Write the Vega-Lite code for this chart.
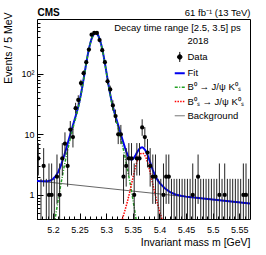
{
 "$schema": "https://vega.github.io/schema/vega-lite/v6.json",
 "width": 213, "height": 200,
 "autosize": "none",
 "padding": {"left": 37, "top": 19, "right": 16, "bottom": 36},
 "background": "white",
 "config": {
  "font": "Liberation Sans",
  "view": {"stroke": "black", "strokeWidth": 1},
  "axis": {"grid": false, "domain": false, "tickColor": "black", "labelColor": "black", "titleColor": "black", "labelFont": "Liberation Sans", "titleFont": "Liberation Sans", "labelFontSize": 9, "titleFontSize": 10.5, "titleFontWeight": "normal", "tickWidth": 1},
  "legend": {"orient": "none", "legendX": 138, "legendY": 17, "title": null,
        "labelFontSize": 9.5, "labelFont": "Liberation Sans", "labelColor": "black", "labelOffset": 3, "symbolType": "stroke", "symbolSize": 100, "rowPadding": 3.2, "padding": 0}
 },
 "datasets": {
  "bins": [
   {"m":5.1725,"n":4,"lo":2.09,"hi":7.16},
   {"m":5.1775,"n":null,"lo":0.3,"hi":1.84},
   {"m":5.1825,"n":3,"lo":1.37,"hi":5.92},
   {"m":5.1875,"n":null,"lo":0.3,"hi":1.84},
   {"m":5.1925,"n":1,"lo":0.17,"hi":3.3},
   {"m":5.1975,"n":1,"lo":0.17,"hi":3.3},
   {"m":5.2025,"n":null,"lo":0.3,"hi":1.84},
   {"m":5.2075,"n":2,"lo":0.71,"hi":4.64},
   {"m":5.2125,"n":1,"lo":0.17,"hi":3.3},
   {"m":5.2175,"n":4,"lo":2.09,"hi":7.16},
   {"m":5.2225,"n":7,"lo":4.42,"hi":10.77},
   {"m":5.2275,"n":3,"lo":1.37,"hi":5.92},
   {"m":5.2325,"n":12,"lo":8.58,"hi":16.56},
   {"m":5.2375,"n":9,"lo":6.06,"hi":13.11},
   {"m":5.2425,"n":27,"lo":22.0,"hi":33.1},
   {"m":5.2475,"n":37,"lo":31.0,"hi":44.1},
   {"m":5.2525,"n":70,"lo":61.6,"hi":79.4},
   {"m":5.2575,"n":102,"lo":91.9,"hi":113.1},
   {"m":5.2625,"n":155,"lo":142.6,"hi":168.5},
   {"m":5.2675,"n":250,"lo":234.2,"hi":266.8},
   {"m":5.2725,"n":440,"lo":419.0,"hi":462.0},
   {"m":5.2775,"n":470,"lo":448.3,"hi":492.7},
   {"m":5.2825,"n":470,"lo":448.3,"hi":492.7},
   {"m":5.2875,"n":360,"lo":341.0,"hi":380.0},
   {"m":5.2925,"n":245,"lo":229.4,"hi":261.7},
   {"m":5.2975,"n":155,"lo":142.6,"hi":168.5},
   {"m":5.3025,"n":75,"lo":66.4,"hi":84.7},
   {"m":5.3075,"n":55,"lo":47.6,"hi":63.5},
   {"m":5.3125,"n":30,"lo":24.6,"hi":36.5},
   {"m":5.3175,"n":20,"lo":15.6,"hi":25.6},
   {"m":5.3225,"n":10,"lo":6.89,"hi":14.27},
   {"m":5.3275,"n":10,"lo":6.89,"hi":14.27},
   {"m":5.3325,"n":2,"lo":0.71,"hi":4.64},
   {"m":5.3375,"n":3,"lo":1.37,"hi":5.92},
   {"m":5.3425,"n":4,"lo":2.09,"hi":7.16},
   {"m":5.3475,"n":4,"lo":2.09,"hi":7.16},
   {"m":5.3525,"n":1,"lo":0.17,"hi":3.3},
   {"m":5.3575,"n":4,"lo":2.09,"hi":7.16},
   {"m":5.3625,"n":4,"lo":2.09,"hi":7.16},
   {"m":5.3675,"n":13,"lo":9.44,"hi":17.7},
   {"m":5.3725,"n":9,"lo":6.06,"hi":13.11},
   {"m":5.3775,"n":5,"lo":2.84,"hi":8.38},
   {"m":5.3825,"n":3,"lo":1.37,"hi":5.92},
   {"m":5.3875,"n":2,"lo":0.71,"hi":4.64},
   {"m":5.3925,"n":2,"lo":0.71,"hi":4.64},
   {"m":5.3975,"n":null,"lo":0.3,"hi":1.84},
   {"m":5.4025,"n":null,"lo":0.3,"hi":1.84},
   {"m":5.4075,"n":1,"lo":0.17,"hi":3.3},
   {"m":5.4125,"n":2,"lo":0.71,"hi":4.64},
   {"m":5.4175,"n":2,"lo":0.71,"hi":4.64},
   {"m":5.4225,"n":null,"lo":0.3,"hi":1.84},
   {"m":5.4275,"n":null,"lo":0.3,"hi":1.84},
   {"m":5.4325,"n":null,"lo":0.3,"hi":1.84},
   {"m":5.4375,"n":null,"lo":0.3,"hi":1.84},
   {"m":5.4425,"n":null,"lo":0.3,"hi":1.84},
   {"m":5.4475,"n":null,"lo":0.3,"hi":1.84},
   {"m":5.4525,"n":null,"lo":0.3,"hi":1.84},
   {"m":5.4575,"n":null,"lo":0.3,"hi":1.84},
   {"m":5.4625,"n":1,"lo":0.17,"hi":3.3},
   {"m":5.4675,"n":null,"lo":0.3,"hi":1.84},
   {"m":5.4725,"n":2,"lo":0.71,"hi":4.64},
   {"m":5.4775,"n":null,"lo":0.3,"hi":1.84},
   {"m":5.4825,"n":null,"lo":0.3,"hi":1.84},
   {"m":5.4875,"n":null,"lo":0.3,"hi":1.84},
   {"m":5.4925,"n":null,"lo":0.3,"hi":1.84},
   {"m":5.4975,"n":null,"lo":0.3,"hi":1.84},
   {"m":5.5025,"n":null,"lo":0.3,"hi":1.84},
   {"m":5.5075,"n":null,"lo":0.3,"hi":1.84},
   {"m":5.5125,"n":1,"lo":0.17,"hi":3.3},
   {"m":5.5175,"n":null,"lo":0.3,"hi":1.84},
   {"m":5.5225,"n":1,"lo":0.17,"hi":3.3},
   {"m":5.5275,"n":null,"lo":0.3,"hi":1.84},
   {"m":5.5325,"n":null,"lo":0.3,"hi":1.84},
   {"m":5.5375,"n":null,"lo":0.3,"hi":1.84},
   {"m":5.5425,"n":null,"lo":0.3,"hi":1.84},
   {"m":5.5475,"n":null,"lo":0.3,"hi":1.84},
   {"m":5.5525,"n":null,"lo":0.3,"hi":1.84},
   {"m":5.5575,"n":1,"lo":0.17,"hi":3.3},
   {"m":5.5625,"n":1,"lo":0.17,"hi":3.3},
   {"m":5.5675,"n":null,"lo":0.3,"hi":1.84}
  ],
  "curves": [
   {"s":"Background","m":5.17,"v":1.70},
   {"s":"Background","m":5.57,"v":0.72},
   {"s":"Fit","m":5.17,"v":1.70},{"s":"Fit","m":5.18,"v":1.674},{"s":"Fit","m":5.19,"v":1.681},{"s":"Fit","m":5.195,"v":1.724},
   {"s":"Fit","m":5.2,"v":1.826},{"s":"Fit","m":5.205,"v":2.032},{"s":"Fit","m":5.21,"v":2.413},{"s":"Fit","m":5.215,"v":3.07},
   {"s":"Fit","m":5.22,"v":4.17},{"s":"Fit","m":5.2225,"v":4.92},{"s":"Fit","m":5.225,"v":5.85},{"s":"Fit","m":5.2275,"v":6.99},
   {"s":"Fit","m":5.23,"v":8.34},{"s":"Fit","m":5.2325,"v":9.96},{"s":"Fit","m":5.235,"v":11.83},{"s":"Fit","m":5.2375,"v":14.07},
   {"s":"Fit","m":5.24,"v":16.76},{"s":"Fit","m":5.2425,"v":19.86},{"s":"Fit","m":5.245,"v":23.75},{"s":"Fit","m":5.2475,"v":28.84},
   {"s":"Fit","m":5.25,"v":35.83},{"s":"Fit","m":5.2525,"v":45.82},{"s":"Fit","m":5.255,"v":60.42},{"s":"Fit","m":5.2575,"v":81.41},
   {"s":"Fit","m":5.26,"v":110.6},{"s":"Fit","m":5.2625,"v":149.7},{"s":"Fit","m":5.265,"v":198.6},{"s":"Fit","m":5.2675,"v":255.6},
   {"s":"Fit","m":5.27,"v":316.9},{"s":"Fit","m":5.2725,"v":376.2},{"s":"Fit","m":5.275,"v":426.1},{"s":"Fit","m":5.2775,"v":459.6},
   {"s":"Fit","m":5.28,"v":471.3},{"s":"Fit","m":5.2825,"v":459.6},{"s":"Fit","m":5.285,"v":426.0},{"s":"Fit","m":5.2875,"v":376.1},
   {"s":"Fit","m":5.29,"v":316.8},{"s":"Fit","m":5.2925,"v":255.5},{"s":"Fit","m":5.295,"v":198.5},{"s":"Fit","m":5.2975,"v":149.6},
   {"s":"Fit","m":5.3,"v":110.5},{"s":"Fit","m":5.3025,"v":81.3},{"s":"Fit","m":5.305,"v":60.3},{"s":"Fit","m":5.3075,"v":45.7},
   {"s":"Fit","m":5.31,"v":35.7},{"s":"Fit","m":5.3125,"v":28.75},{"s":"Fit","m":5.315,"v":23.67},{"s":"Fit","m":5.3175,"v":19.79},
   {"s":"Fit","m":5.32,"v":16.72},{"s":"Fit","m":5.3225,"v":14.05},{"s":"Fit","m":5.325,"v":11.84},{"s":"Fit","m":5.3275,"v":10.01},
   {"s":"Fit","m":5.33,"v":8.45},{"s":"Fit","m":5.3325,"v":7.15},{"s":"Fit","m":5.335,"v":6.08},{"s":"Fit","m":5.3375,"v":5.24},
   {"s":"Fit","m":5.34,"v":4.61},{"s":"Fit","m":5.3425,"v":4.16},{"s":"Fit","m":5.345,"v":3.9},{"s":"Fit","m":5.3475,"v":3.82},
   {"s":"Fit","m":5.35,"v":3.9},{"s":"Fit","m":5.3525,"v":4.14},{"s":"Fit","m":5.355,"v":4.51},{"s":"Fit","m":5.3575,"v":4.94},
   {"s":"Fit","m":5.36,"v":5.39},{"s":"Fit","m":5.3625,"v":5.77},{"s":"Fit","m":5.365,"v":6.02},{"s":"Fit","m":5.3675,"v":6.09},
   {"s":"Fit","m":5.37,"v":5.95},{"s":"Fit","m":5.3725,"v":5.62},{"s":"Fit","m":5.375,"v":5.14},{"s":"Fit","m":5.3775,"v":4.58},
   {"s":"Fit","m":5.38,"v":4.0},{"s":"Fit","m":5.3825,"v":3.45},{"s":"Fit","m":5.385,"v":2.97},{"s":"Fit","m":5.3875,"v":2.57},
   {"s":"Fit","m":5.39,"v":2.26},{"s":"Fit","m":5.3925,"v":2.02},{"s":"Fit","m":5.395,"v":1.84},{"s":"Fit","m":5.3975,"v":1.7},
   {"s":"Fit","m":5.4,"v":1.59},{"s":"Fit","m":5.4025,"v":1.5},{"s":"Fit","m":5.405,"v":1.42},{"s":"Fit","m":5.41,"v":1.29},
   {"s":"Fit","m":5.415,"v":1.19},{"s":"Fit","m":5.42,"v":1.11},{"s":"Fit","m":5.43,"v":1.016},{"s":"Fit","m":5.44,"v":0.966},
   {"s":"Fit","m":5.45,"v":0.936},{"s":"Fit","m":5.46,"v":0.912},{"s":"Fit","m":5.57,"v":0.72},
   {"s":"B0","m":5.19,"v":0.053},{"s":"B0","m":5.195,"v":0.113},{"s":"B0","m":5.2,"v":0.232},{"s":"B0","m":5.205,"v":0.455},
   {"s":"B0","m":5.21,"v":0.853},{"s":"B0","m":5.215,"v":1.53},{"s":"B0","m":5.22,"v":2.64},{"s":"B0","m":5.2225,"v":3.4},
   {"s":"B0","m":5.225,"v":4.34},{"s":"B0","m":5.2275,"v":5.49},{"s":"B0","m":5.23,"v":6.85},{"s":"B0","m":5.2325,"v":8.47},
   {"s":"B0","m":5.235,"v":10.35},{"s":"B0","m":5.2375,"v":12.6},{"s":"B0","m":5.24,"v":15.3},{"s":"B0","m":5.2425,"v":18.4},
   {"s":"B0","m":5.245,"v":22.3},{"s":"B0","m":5.2475,"v":27.4},{"s":"B0","m":5.25,"v":34.4},{"s":"B0","m":5.2525,"v":44.4},
   {"s":"B0","m":5.255,"v":59.0},{"s":"B0","m":5.2575,"v":80.0},{"s":"B0","m":5.26,"v":109.2},{"s":"B0","m":5.2625,"v":148.3},
   {"s":"B0","m":5.265,"v":197.2},{"s":"B0","m":5.2675,"v":254.2},{"s":"B0","m":5.27,"v":315.5},{"s":"B0","m":5.2725,"v":374.8},
   {"s":"B0","m":5.275,"v":424.7},{"s":"B0","m":5.2775,"v":458.3},{"s":"B0","m":5.28,"v":470},{"s":"B0","m":5.2825,"v":458.3},
   {"s":"B0","m":5.285,"v":424.7},{"s":"B0","m":5.2875,"v":374.8},{"s":"B0","m":5.29,"v":315.5},{"s":"B0","m":5.2925,"v":254.2},
   {"s":"B0","m":5.295,"v":197.2},{"s":"B0","m":5.2975,"v":148.3},{"s":"B0","m":5.3,"v":109.2},{"s":"B0","m":5.3025,"v":80.0},
   {"s":"B0","m":5.305,"v":59.0},{"s":"B0","m":5.3075,"v":44.4},{"s":"B0","m":5.31,"v":34.4},{"s":"B0","m":5.3125,"v":27.4},
   {"s":"B0","m":5.315,"v":22.3},{"s":"B0","m":5.3175,"v":18.4},{"s":"B0","m":5.32,"v":15.3},{"s":"B0","m":5.3225,"v":12.6},
   {"s":"B0","m":5.325,"v":10.35},{"s":"B0","m":5.3275,"v":8.47},{"s":"B0","m":5.33,"v":6.85},{"s":"B0","m":5.3325,"v":5.49},
   {"s":"B0","m":5.335,"v":4.34},{"s":"B0","m":5.3375,"v":3.4},{"s":"B0","m":5.34,"v":2.64},{"s":"B0","m":5.345,"v":1.53},
   {"s":"B0","m":5.35,"v":0.853},{"s":"B0","m":5.355,"v":0.455},{"s":"B0","m":5.36,"v":0.232},{"s":"B0","m":5.365,"v":0.113},
   {"s":"B0","m":5.37,"v":0.053},
   {"s":"Bs","m":5.3175,"v":0.148},{"s":"Bs","m":5.3225,"v":0.224},{"s":"Bs","m":5.3275,"v":0.324},{"s":"Bs","m":5.33,"v":0.39},
   {"s":"Bs","m":5.3325,"v":0.463},{"s":"Bs","m":5.335,"v":0.55},{"s":"Bs","m":5.3375,"v":0.656},{"s":"Bs","m":5.34,"v":0.791},
   {"s":"Bs","m":5.3425,"v":0.968},{"s":"Bs","m":5.345,"v":1.2},{"s":"Bs","m":5.3475,"v":1.506},{"s":"Bs","m":5.35,"v":1.895},
   {"s":"Bs","m":5.3525,"v":2.367},{"s":"Bs","m":5.355,"v":2.907},{"s":"Bs","m":5.3575,"v":3.479},{"s":"Bs","m":5.36,"v":4.027},
   {"s":"Bs","m":5.3625,"v":4.486},{"s":"Bs","m":5.365,"v":4.793},{"s":"Bs","m":5.3675,"v":4.9},{"s":"Bs","m":5.37,"v":4.793},
   {"s":"Bs","m":5.3725,"v":4.486},{"s":"Bs","m":5.375,"v":4.027},{"s":"Bs","m":5.3775,"v":3.479},{"s":"Bs","m":5.38,"v":2.907},
   {"s":"Bs","m":5.3825,"v":2.367},{"s":"Bs","m":5.385,"v":1.895},{"s":"Bs","m":5.3875,"v":1.506},{"s":"Bs","m":5.39,"v":1.2},
   {"s":"Bs","m":5.3925,"v":0.968},{"s":"Bs","m":5.395,"v":0.791},{"s":"Bs","m":5.3975,"v":0.656},{"s":"Bs","m":5.4,"v":0.55},
   {"s":"Bs","m":5.4025,"v":0.463},{"s":"Bs","m":5.405,"v":0.39},{"s":"Bs","m":5.4075,"v":0.324},{"s":"Bs","m":5.4125,"v":0.224},
   {"s":"Bs","m":5.4175,"v":0.148}
  ]
 },
 "layer": [
  {
   "data": {"name": "curves"},
   "transform": [{"filter": "datum.s === 'Background'"}],
   "mark": {"type": "line", "clip": true, "strokeWidth": 1},
   "encoding": {
    "x": {"field": "m", "type": "quantitative", "scale": {"domain": [5.17, 5.57], "nice": false, "zero": false},
          "axis": {"orient": "top", "title": "CMS", "titleFontWeight": "bold", "titleFontSize": 10, "titleAnchor": "start", "titleAlign": "left", "titleX": 0, "titleY": -4, "titleBaseline": "alphabetic", "ticks": false, "labels": false}},
    "y": {"field": "v", "type": "quantitative", "scale": {"type": "log", "domain": [0.4, 800], "nice": false}, "axis": null},
    "color": {"field": "s", "type": "nominal",
      "scale": {"domain": ["2018", "Data", "Fit", "B0", "Bs", "Background"], "range": ["#ffffff", "#000000", "#0000ee", "#22a022", "#ff0000", "#666666"]},
      "legend": {
        "labelExpr": "datum.value === 'B0' ? 'B⁰ → J/ψ K⁰ₛ' : datum.value === 'Bs' ? 'B⁰ₛ → J/ψ K⁰ₛ' : datum.label",
        "encode": {"symbols": {"update": {
          "shape": {"signal": "datum.value === 'Data' ? 'M0,-1V1M-0.45,0A0.45,0.45 0 1 0 0.45,0A0.45,0.45 0 1 0 -0.45,0' : 'stroke'"},
          "fill": {"signal": "datum.value === 'Data' ? '#000000' : 'transparent'"},
          "opacity": {"signal": "datum.value === '2018' ? 0 : 1"},
          "strokeWidth": {"signal": "datum.value === 'Fit' ? 2 : datum.value === 'Background' ? 1 : datum.value === 'Data' ? 1 : 1.5"},
          "strokeDash": {"signal": "datum.value === 'B0' ? [3, 1.5, 1, 1.5] : datum.value === 'Bs' ? [1.5, 1.2] : [1, 0]"}
        }}}
      }}
   }
  },
  {
   "data": {"name": "curves"},
   "transform": [{"filter": "datum.s === 'Fit'"}],
   "mark": {"type": "line", "clip": true, "strokeWidth": 2},
   "encoding": {
    "x": {"field": "m", "type": "quantitative", "scale": {"domain": [5.17, 5.57], "nice": false, "zero": false},
          "axis": {"orient": "top", "title": "61 fb⁻¹ (13 TeV)", "titleFontSize": 9.5, "titleAnchor": "end", "titleAlign": "right", "titleX": 213, "titleY": -4, "titleBaseline": "alphabetic", "ticks": false, "labels": false}},
    "y": {"field": "v", "type": "quantitative", "scale": {"type": "log", "domain": [0.4, 800], "nice": false}, "axis": null},
    "color": {"field": "s", "type": "nominal", "scale": {"domain": ["2018", "Data", "Fit", "B0", "Bs", "Background"], "range": ["#ffffff", "#000000", "#0000ee", "#22a022", "#ff0000", "#666666"]}}
   }
  },
  {
   "data": {"name": "curves"},
   "transform": [{"filter": "datum.s === 'B0'"}],
   "mark": {"type": "line", "clip": true, "strokeWidth": 1.5, "strokeDash": [3, 1.5, 1, 1.5]},
   "encoding": {
    "x": {"field": "m", "type": "quantitative", "scale": {"domain": [5.17, 5.57], "nice": false, "zero": false},
          "axis": {"orient": "bottom", "values": [5.17,5.18,5.19,5.2,5.21,5.22,5.23,5.24,5.25,5.26,5.27,5.28,5.29,5.3,5.31,5.32,5.33,5.34,5.35,5.36,5.37,5.38,5.39,5.4,5.41,5.42,5.43,5.44,5.45,5.46,5.47,5.48,5.49,5.5,5.51,5.52,5.53,5.54,5.55,5.56], "tickSize": -3, "labels": false, "title": null}},
    "y": {"field": "v", "type": "quantitative", "scale": {"type": "log", "domain": [0.4, 800], "nice": false},
          "axis": {"orient": "left", "values": [0.4,0.5,0.6,0.7,0.8,0.9,2,3,4,5,6,7,8,9,20,30,40,50,60,70,80,90,200,300,400,500,600,700], "tickSize": -3, "labels": false, "title": null}},
    "color": {"field": "s", "type": "nominal", "scale": {"domain": ["2018", "Data", "Fit", "B0", "Bs", "Background"], "range": ["#ffffff", "#000000", "#0000ee", "#22a022", "#ff0000", "#666666"]}}
   }
  },
  {
   "data": {"name": "curves"},
   "transform": [{"filter": "datum.s === 'Bs'"}],
   "mark": {"type": "line", "clip": true, "strokeWidth": 1.5, "strokeDash": [1.5, 1.2]},
   "encoding": {
    "x": {"field": "m", "type": "quantitative", "scale": {"domain": [5.17, 5.57], "nice": false, "zero": false},
          "axis": {"orient": "top", "title": "Decay time range [2.5, 3.5] ps", "titleFontSize": 9.5, "titleAnchor": "middle", "titleAlign": "center", "titleX": 140, "titleY": 8, "titleBaseline": "middle", "ticks": false, "labels": false}},
    "y": {"field": "v", "type": "quantitative", "scale": {"type": "log", "domain": [0.4, 800], "nice": false}, "axis": null},
    "color": {"field": "s", "type": "nominal", "scale": {"domain": ["2018", "Data", "Fit", "B0", "Bs", "Background"], "range": ["#ffffff", "#000000", "#0000ee", "#22a022", "#ff0000", "#666666"]}}
   }
  },
  {
   "data": {"name": "bins"},
   "mark": {"type": "rule", "clip": true, "color": "#222222", "strokeWidth": 1},
   "encoding": {
    "x": {"field": "m", "type": "quantitative", "scale": {"domain": [5.17, 5.57], "nice": false, "zero": false},
          "axis": {"orient": "bottom", "values": [5.2,5.25,5.3,5.35,5.4,5.45,5.5,5.55], "format": ".2~f", "tickSize": -6, "labelPadding": 12,
                   "title": "Invariant mass  m [GeV]", "titleAnchor": "end", "titleAlign": "right", "titleX": 213, "titleY": 18, "titleBaseline": "top"}},
    "y": {"field": "lo", "type": "quantitative", "scale": {"type": "log", "domain": [0.4, 800], "nice": false},
          "axis": {"orient": "left", "values": [1, 10, 100], "tickSize": -6, "labelPadding": 9,
                   "labelExpr": "datum.value === 100 ? '10²' : datum.value === 10 ? '10' : '1'",
                   "title": "Events / 5 MeV", "titleAnchor": "end", "titleAlign": "right", "titleAngle": 270, "titleX": -24, "titleY": -7, "titleBaseline": "bottom"}},
    "y2": {"field": "hi"}
   }
  },
  {
   "data": {"name": "bins"},
   "mark": {"type": "point", "filled": true, "clip": true, "color": "#000000", "size": 18, "opacity": 1},
   "encoding": {
    "x": {"field": "m", "type": "quantitative", "scale": {"domain": [5.17, 5.57], "nice": false, "zero": false}, "axis": null},
    "y": {"field": "n", "type": "quantitative", "scale": {"type": "log", "domain": [0.4, 800], "nice": false}, "axis": null}
   }
  }
 ],
 "resolve": {"axis": {"x": "independent", "y": "independent"}}
}
